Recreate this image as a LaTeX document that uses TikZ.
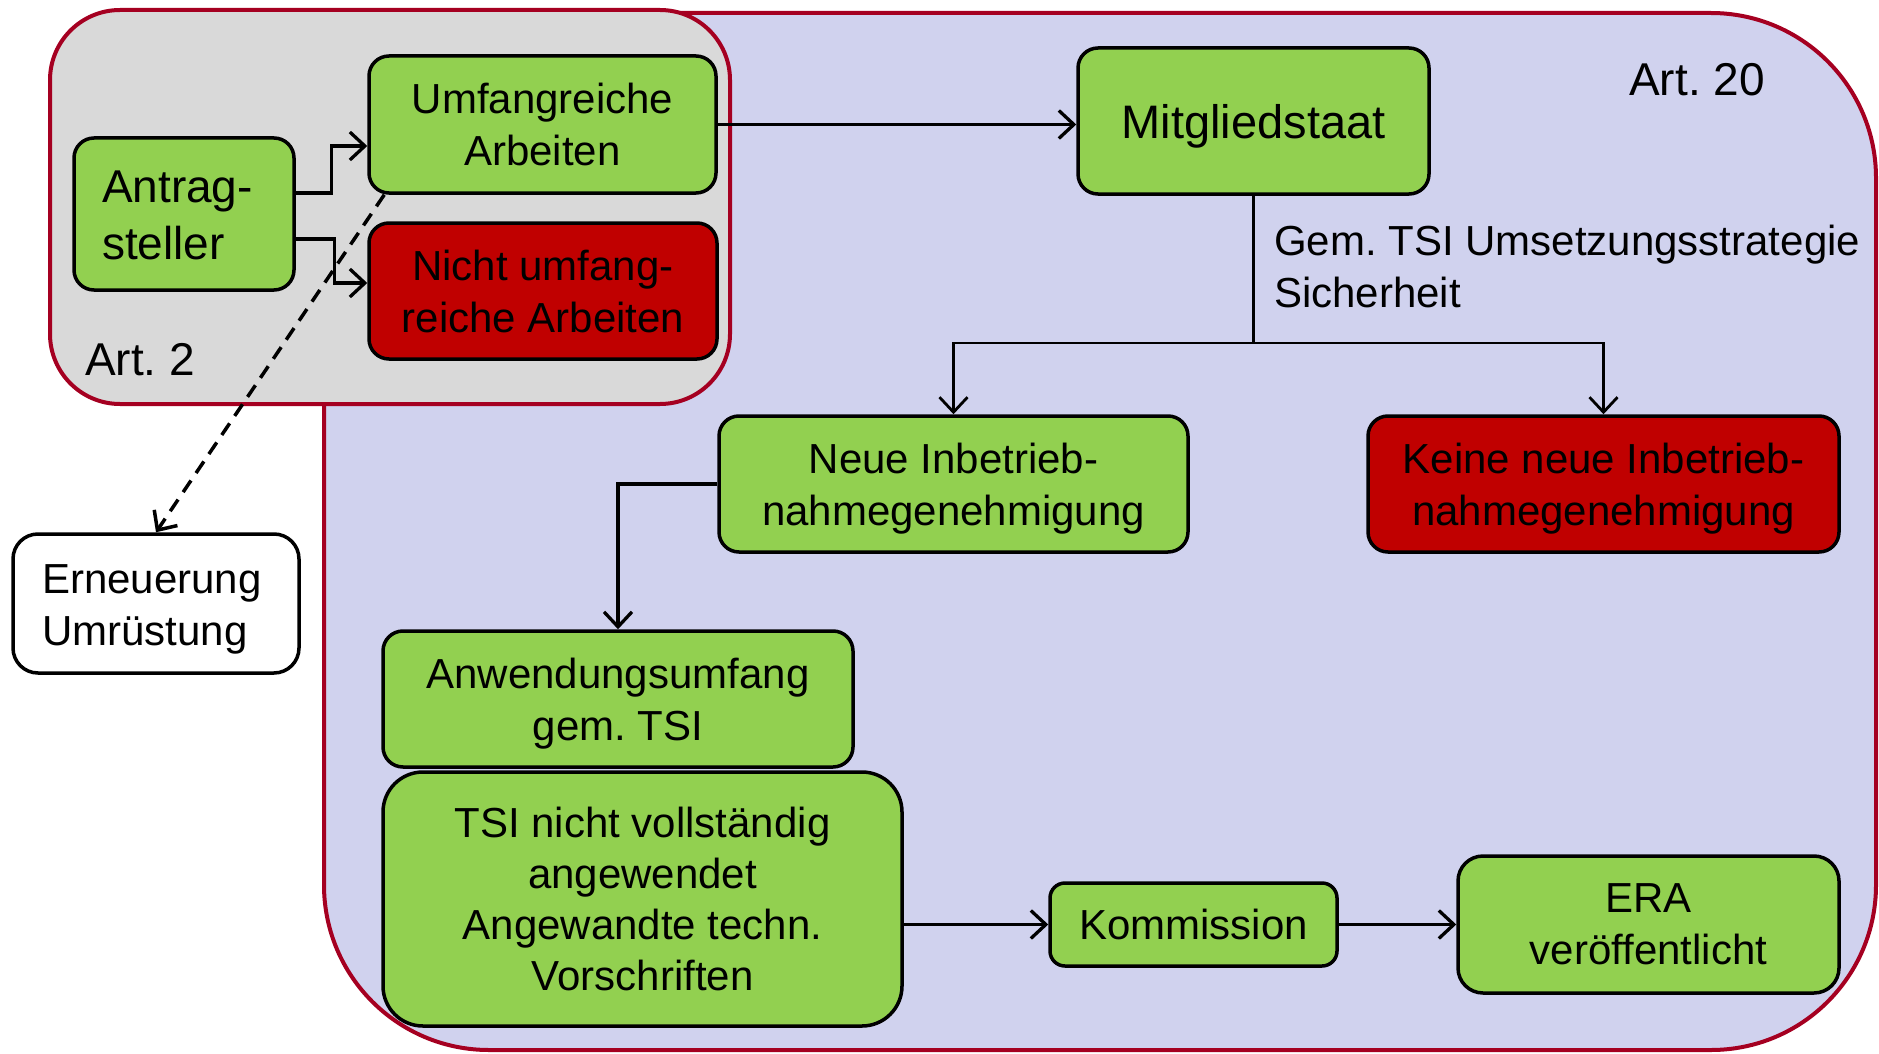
\documentclass[tikz,border=0pt]{standalone}
\usepackage{fontspec}
\setmainfont{Liberation Sans}
\usetikzlibrary{arrows.meta}
\definecolor{boxgreen}{RGB}{146,208,80}
\definecolor{boxred}{RGB}{192,0,0}
\definecolor{graybg}{RGB}{217,217,217}
\definecolor{lavender}{RGB}{208,210,238}
\definecolor{regionred}{RGB}{165,0,33}
\tikzset{
  box/.style={draw=black, line width=3.5pt, rounded corners=20pt, inner sep=0pt, align=center,
    text depth=0pt, font=\fontsize{42pt}{52pt}\selectfont},
  greenbox/.style={box, fill=boxgreen},
  redbox/.style={box, fill=boxred},
  whitebox/.style={box, fill=white, rounded corners=25pt},
  region/.style={draw=regionred, line width=4pt},
  conn/.style={line width=3.3pt, -{Straight Barb[length=15pt,width=28pt]}},
  thinconn/.style={line width=2.8pt, -{Straight Barb[length=15pt,width=28pt]}},
  dashconn/.style={conn, line width=3.5pt, dash pattern=on 14pt off 9pt},
  plaintext/.style={inner sep=0pt, font=\fontsize{42pt}{52pt}\selectfont},
  arttext/.style={inner sep=0pt, font=\fontsize{46pt}{56pt}\selectfont},
}
\begin{document}
\frenchspacing
\begin{tikzpicture}[x=1pt, y=-1pt]
\useasboundingbox (0,0) rectangle (1879,1054);
% regions
\draw[region, fill=lavender, rounded corners=165pt] (324,13) rectangle (1876,1050);
\draw[region, fill=graybg, rounded corners=70pt] (50,10) rectangle (730,404);
\node[arttext, anchor=base west] (art2) at (85,375) {Art. 2};
\node[arttext, anchor=base west] (art20) at (1629,96) {Art. 20};
% nodes
\node[greenbox, align=left, text width=164pt, text height=34pt, text depth=57pt,
      minimum width=220pt, minimum height=152pt,
      font=\fontsize{46pt}{57pt}\selectfont] (ant) at (184,214) {Antrag-\\steller};
\node[greenbox, minimum width=347pt, minimum height=137pt] (umf) at (542.5,124.5) {Umfangreiche\\Arbeiten};
\node[redbox, minimum width=348pt, minimum height=136pt] (nicht) at (543,291) {Nicht umfang-\\reiche Arbeiten};
\node[greenbox, minimum width=351pt, minimum height=146pt,
      font=\fontsize{47pt}{57pt}\selectfont] (mit) at (1253.5,121) {Mitgliedstaat};
\node[plaintext, anchor=north west, align=left] (gem) at (1274,225) {Gem. TSI Umsetzungsstrategie\\Sicherheit};
\node[greenbox, minimum width=469pt, minimum height=136pt] (neue) at (953.5,484) {Neue Inbetrieb-\\nahmegenehmigung};
\node[redbox, minimum width=471pt, minimum height=136pt] (keine) at (1603.5,484) {Keine neue Inbetrieb-\\nahmegenehmigung};
\node[whitebox, align=left, text width=228pt, text height=31pt, text depth=52pt,
      minimum width=286pt, minimum height=139pt] (ern) at (156,603.5) {Erneuerung\\Umrüstung};
\node[greenbox, minimum width=470pt, minimum height=136pt] (anw) at (618,699) {Anwendungsumfang\\gem. TSI};
\node[greenbox, rounded corners=40pt, minimum width=519pt, minimum height=254pt,
      font=\fontsize{42pt}{51pt}\selectfont] (tsi) at (642.5,899) {TSI nicht vollständig\\angewendet\\Angewandte techn.\\Vorschriften};
\node[greenbox, rounded corners=15pt, minimum width=287pt, minimum height=83pt] (kom) at (1193.5,924.5) {Kommission};
\node[greenbox, rounded corners=25pt, minimum width=381pt, minimum height=137pt] (era) at (1648.5,924.5) {ERA\\veröffentlicht};
% connectors
\draw[conn] ([yshift=21pt]ant.east) -- ++(36,0) |- ([yshift=-21.5pt]umf.west);
\draw[conn] ([yshift=-25pt]ant.east) -- ++(39,0) |- ([yshift=8pt]nicht.west);
\draw[conn] (umf.east) -- (umf.east -| mit.west);
\coordinate (split) at (1253.5,343);
\draw[line width=2.8pt] (mit.south) -- (split);
\draw[thinconn] (split) -| (neue.north);
\draw[thinconn] (split) -| (keine.north);
\draw[conn] (neue.west) -| (anw.north);
\coordinate (dstart) at ([xshift=17pt]umf.south west);
\draw[dashconn] (dstart) -- (ern.north);
\draw[conn] (tsi.east |- kom.west) -- (kom.west);
\draw[conn] (kom.east) -- (era.west);
\end{tikzpicture}
\end{document}
